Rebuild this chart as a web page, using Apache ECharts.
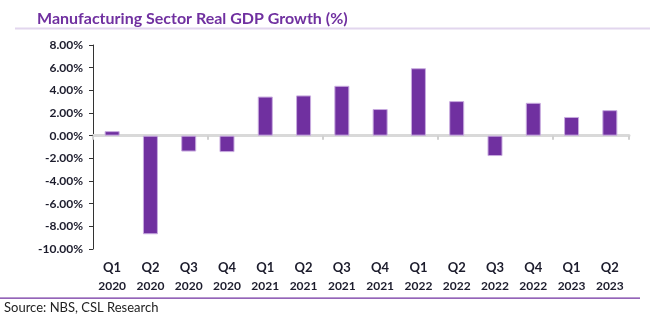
<!DOCTYPE html>
<html><head><meta charset="utf-8">
<script src="https://cdn.jsdelivr.net/npm/echarts@6/dist/echarts.min.js"></script>
<style>html,body{margin:0;padding:0;background:#fff}#c{width:650px;height:326px}</style>
</head><body><div id="c"></div>
<script>
var quarters = ['Q1','Q2','Q3','Q4','Q1','Q2','Q3','Q4','Q1','Q2','Q3','Q4','Q1','Q2'];
var years = ['2020','2020','2020','2020','2021','2021','2021','2021','2022','2022','2022','2022','2023','2023'];
var growth = [0.4, -8.7, -1.4, -1.45, 3.45, 3.55, 4.4, 2.35, 5.95, 3.05, -1.8, 2.9, 1.65, 2.25];
var yTicks = {min: -10, max: 8, interval: 2};

var categories = quarters.map(function(q, i){ return q + '\n' + years[i]; });
var chart = echarts.init(document.getElementById('c'));
chart.setOption({
  animation: false,
  title: {text: 'Manufacturing Sector Real GDP Growth (%)', left: 32, top: 6,
    textStyle: {fontFamily: 'Lato', fontWeight: 'bold', fontSize: 16, color: '#7030A0'}},
  grid: {left: 93, right: 21, top: 45, bottom: 77},
  xAxis: [{
    type: 'category', data: categories, position: 'bottom',
    axisLine: {show: false, onZero: false}, axisTick: {show: false},
    axisLabel: {margin: 10, interval: 0, fontFamily: 'Lato', fontWeight: 'bold', color: '#1c1c2c',
      formatter: function(v){ var p = v.split('\n'); return '{q|' + p[0] + '}\n{y|' + p[1] + '}'; },
      rich: {q: {fontSize: 13, fontWeight: 'bold', fontFamily: 'Lato', color: '#1c1c2c', lineHeight: 18},
             y: {fontSize: 12, fontWeight: 'bold', fontFamily: 'Lato', color: '#1c1c2c', lineHeight: 18}}}
  }, {
    type: 'category', data: categories, position: 'bottom',
    axisLine: {show: true, onZero: true, lineStyle: {color: '#d9d9d9', width: 3}},
    axisTick: {show: true, interval: 2, length: 4, lineStyle: {color: '#d0d0d0', width: 2}},
    axisLabel: {show: false}
  }],
  yAxis: {
    type: 'value', min: yTicks.min, max: yTicks.max, interval: yTicks.interval,
    axisLine: {show: true, lineStyle: {color: '#333', width: 1}},
    axisTick: {show: true, length: 4, lineStyle: {color: '#333'}},
    splitLine: {show: false},
    axisLabel: {margin: 10, fontFamily: 'Lato', fontWeight: 'bold', fontSize: 12, color: '#1c1c2c',
      formatter: function(v){ return v.toFixed(2) + '%'; }}
  },
  series: [{
    type: 'bar', data: growth, xAxisIndex: 0, barWidth: 15, z: 3,
    itemStyle: {color: '#7030A0', borderColor: '#c8abdf', borderWidth: 1}
  }],
  graphic: [
    {type: 'rect', shape: {x: 15, y: 27.5, width: 635, height: 2}, style: {fill: '#e2d6ee'}},
    {type: 'rect', shape: {x: 0, y: 297.5, width: 640, height: 1.2}, style: {fill: '#7030A0'}},
    {type: 'text', left: 4, top: 301, style: {text: 'Source: NBS, CSL Research', fontFamily: 'Lato', fontSize: 13, fill: '#222'}}
  ]
});
</script></body></html>
